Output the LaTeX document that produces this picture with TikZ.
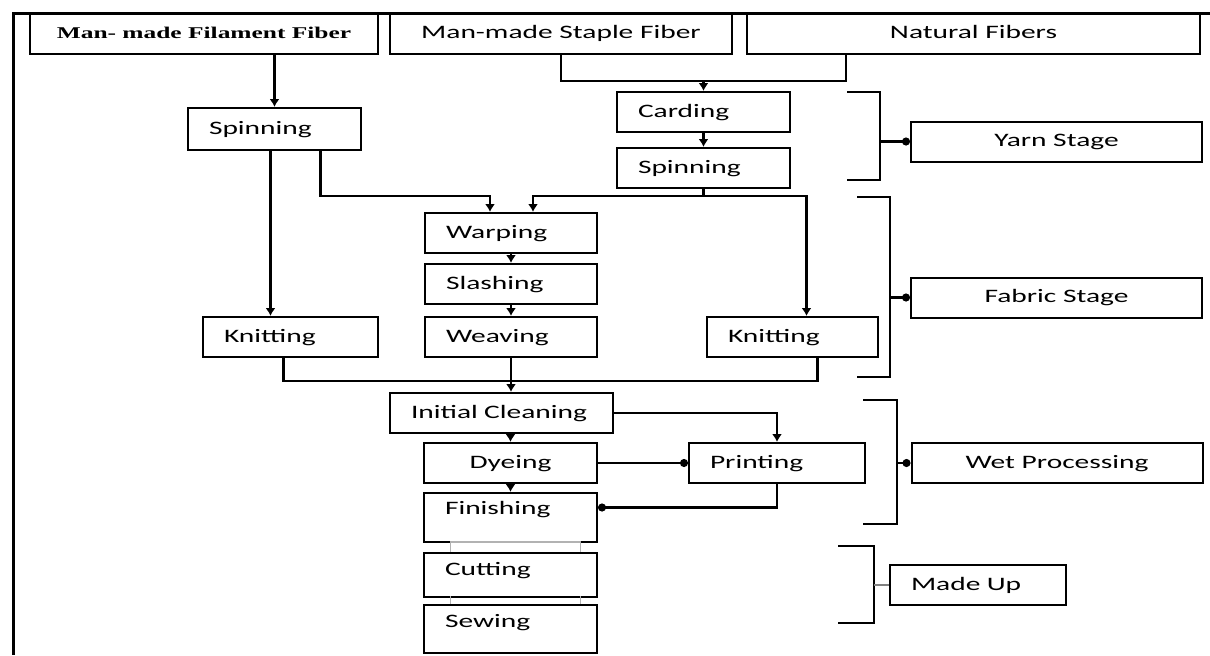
\documentclass[tikz,border=0pt]{standalone}
\usepackage{fontspec}
\setmainfont[FakeStretch=1.55]{Carlito}
\newfontfamily\timesbf[FakeStretch=1.55]{Liberation Serif}
\usetikzlibrary{arrows.meta,calc}

\begin{document}
\begin{tikzpicture}[x=0.5pt,y=-0.5pt,
  font=\fontsize{9.5}{11}\selectfont,
  box/.style={draw,line width=1pt,minimum height=20pt,inner sep=3pt,text height=7pt,text depth=2pt},
  lbox/.style={box,inner xsep=10.5pt,align=left,text width=#1},
  conn/.style={line width=1.1pt},
  arr/.style={conn,-{Latex[length=4pt,width=5pt]}},
  rnd/.style={conn,-{Circle[length=4pt]}},
  brk/.style={line width=1.2pt}]
            \useasboundingbox (0,0) rectangle (1210,655);
            \draw[line width=1.5pt] (1210,13) -- (13,13) -- (13,655);
            % fibre sources
            \node[box,minimum width=174pt,minimum height=20.5pt,font=\timesbf\bfseries\fontsize{8.2}{10}\selectfont] at (204,33.5) (fil) {Man- made Filament Fiber};
            \node[box,minimum width=171pt,minimum height=20.5pt] at (561,33.5) (stap) {Man-made Staple Fiber};
            \node[box,minimum width=226.5pt,minimum height=20.5pt] at (973.5,33.5) (nat) {Natural Fibers};
            % yarn
            \node[lbox=65.5pt,minimum height=21pt] at (274.5,129) (spinA) {Spinning};
            \node[lbox=65.5pt] at (703.5,112) (card) {Carding};
            \node[lbox=65.5pt] at (703.5,168) (spinB) {Spinning};
            % fabric
            \node[lbox=65pt] at (511,233) (warp) {Warping};
            \node[lbox=65pt] at (511,284) (slash) {Slashing};
            \node[lbox=65pt] at (511,337) (weave) {Weaving};
            \node[lbox=66.5pt] at (290.5,337) (knitA) {Knitting};
            \node[lbox=64.5pt] at (792.5,337) (knitB) {Knitting};
            % wet processing
            \node[lbox=90.5pt] at (501.5,413) (clean) {Initial Cleaning};
            \node[box,minimum width=86.5pt] at (510.5,463) (dye) {Dyeing};
            \node[lbox=67pt] at (777,463) (print) {Printing};
            \node[lbox=65.5pt,minimum height=24.5pt,text depth=10pt] at (510.5,517.5) (finish) {Finishing};
            % made up
            \node[lbox=65.5pt,minimum height=22pt,text depth=7pt] at (510.5,575) (cut) {Cutting};
            \node[lbox=65.5pt,minimum height=24pt,text depth=9pt] at (510.5,629) (sew) {Sewing};
            % stages
            \node[box,minimum width=145.5pt] at (1056.5,141.5) (yarn) {Yarn Stage};
            \node[box,minimum width=145.5pt] at (1056.5,297.5) (fabric) {Fabric Stage};
            \node[box,minimum width=145.5pt] at (1057,463) (wet) {Wet Processing};
            \node[lbox=67pt] at (978,585) (madeup) {Made Up};

            \draw[arr] (fil.south -| spinA.north) -- (spinA.north);
            \draw[conn] (stap.south) -- ++(0,26) -| ($(nat.south west)+(100,0)$);
            \draw[arr] (card.north |- 0,80) -- (card.north);
            \draw[arr] (card) -- (spinB);
            \draw[arr] (spinB.south) |- ($(warp.north)+(22,-16)$) -- ($(warp.north)+(22,0)$);
            \draw[arr] (spinB.south) |- ($(knitB.north)+(14,-120)$) -- ($(knitB.north)+(14,0)$);
            \draw[arr] ($(spinA.south)+(-4,0)$) -- ($(knitA.north)+(-20,0)$);
            \draw[arr] ($(spinA.south)+(46,0)$) |- ($(warp.north)+(-21,-16)$) -- ($(warp.north)+(-21,0)$);
            \draw[arr] (warp) -- (slash);
            \draw[arr] (slash) -- (weave);
            \draw[conn] ($(knitA.south)+(-7,0)$) |- ($(knitB.south)+(25,23)$) -- ($(knitB.south)+(25,0)$);
            \draw[arr] (weave) -- (weave.south |- clean.north);
            \draw[arr] (clean.south -| dye.north) -- (dye.north);
            \draw[arr] (clean.east) -| (print.north);
            \draw[rnd] (dye) -- (print);
            \draw[arr] (dye) -- (finish);
            \draw[rnd] (print.south) |- ($(finish.east)+(0,-10)$);
            \draw[gray!60,line width=0.8pt] ($(cut.north)+(-60,0)$) -- ++(0,-10) -- ++(130,0) -- ++(0,10);
            \draw[gray!60,line width=0.8pt] ($(sew.north)+(-60,0)$) -- ++(0,-8);
            \draw[gray!60,line width=0.8pt] ($(sew.north)+(70,0)$) -- ++(0,-8);
            % brackets
            \draw[brk] (847,92) -| (880,180) -- (847,180);
            \coordinate (yb) at (880,141.5);
            \draw[rnd] (yb) -- (yarn.west);
            \draw[brk] (857,197) -| (890,377) -- (857,377);
            \coordinate (fb) at (890,297.5);
            \draw[rnd] (fb) -- (fabric.west);
            \draw[brk] (863,400) -| (897,524) -- (863,524);
            \coordinate (wb) at (897,463);
            \draw[rnd] (wb) -- (wet.west);
            \draw[brk] (838,546) -| (874,623) -- (838,623);
            \coordinate (mb) at (874,585);
            \draw[conn,gray] (mb) -- (madeup.west);
        \end{tikzpicture}
\end{document}
